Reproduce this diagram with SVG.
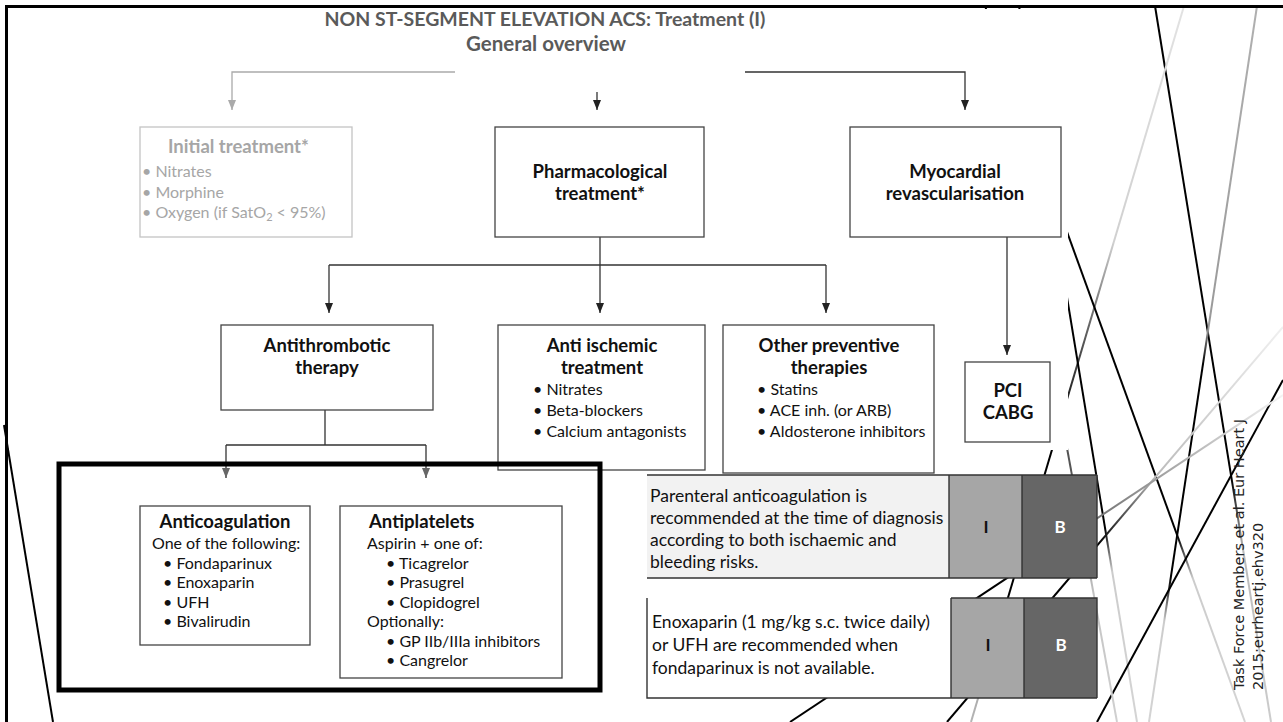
<svg xmlns="http://www.w3.org/2000/svg" width="1283" height="722" viewBox="0 0 1283 722">
  <style>
    .frame { fill: none; stroke: #000; stroke-width: 3; }
    .box { fill: #fff; stroke: #444; stroke-width: 1.3; }
    .boxg { fill: #fff; stroke: #c4c4c4; stroke-width: 1.3; }
    .conn { fill: none; stroke: #333; stroke-width: 1.3; }
    .conng { fill: none; stroke: #aaa; stroke-width: 1.3; }
    .deco { fill: none; stroke-width: 2; }
    .hd { font-family: Lato, 'Open Sans', 'Liberation Sans', sans-serif; font-weight: bold; font-size: 18.5px; fill: #111; text-anchor: middle; }
    .tx { font-family: Lato, 'Open Sans', 'Liberation Sans', sans-serif; font-size: 16px; fill: #111; }
    .ttl { font-family: Lato, 'Open Sans', 'Liberation Sans', sans-serif; font-weight: bold; fill: #5a5a5a; text-anchor: middle; }
    .grey { fill: #a6a6a6; }
    .tbl { font-family: Lato, 'Open Sans', 'Liberation Sans', sans-serif; font-size: 17.5px; fill: #111; }
    .lvl { font-family: Lato, 'Open Sans', 'Liberation Sans', sans-serif; font-weight: bold; font-size: 17px; text-anchor: middle; }
    .cite { font-family: 'DejaVu Sans', sans-serif; font-size: 14.5px; fill: #222; }
  </style>
  <defs>
    <marker id="ah" viewBox="0 0 10 8" refX="10" refY="4" markerWidth="10" markerHeight="8" orient="auto" markerUnits="userSpaceOnUse">
      <path d="M0,0 L10,4 L0,8 z" fill="#222"/>
    </marker>
    <marker id="ahg" viewBox="0 0 10 8" refX="10" refY="4" markerWidth="10" markerHeight="8" orient="auto" markerUnits="userSpaceOnUse">
      <path d="M0,0 L10,4 L0,8 z" fill="#aaa"/>
    </marker>
    <marker id="ahm" viewBox="0 0 10 8" refX="10" refY="4" markerWidth="10" markerHeight="8" orient="auto" markerUnits="userSpaceOnUse">
      <path d="M0,0 L10,4 L0,8 z" fill="#666"/>
    </marker>
    <!-- colour ramps for the background strokes -->
    <linearGradient id="gA" gradientUnits="userSpaceOnUse" x1="1155" y1="6" x2="1271" y2="722">
      <stop offset="0" stop-color="#000"/><stop offset="0.66" stop-color="#000"/><stop offset="0.76" stop-color="#bbb"/><stop offset="1" stop-color="#ccc"/>
    </linearGradient>
    <linearGradient id="gB" gradientUnits="userSpaceOnUse" x1="1184" y1="6" x2="971" y2="722">
      <stop offset="0" stop-color="#e2e2e2"/><stop offset="0.33" stop-color="#d0d0d0"/><stop offset="0.42" stop-color="#777"/><stop offset="0.6" stop-color="#000"/><stop offset="0.85" stop-color="#000"/><stop offset="0.95" stop-color="#aaa"/><stop offset="1" stop-color="#b4b4b4"/>
    </linearGradient>
    <linearGradient id="gC" gradientUnits="userSpaceOnUse" x1="1257" y1="6" x2="1149" y2="722">
      <stop offset="0" stop-color="#b0b0b0"/><stop offset="0.45" stop-color="#999"/><stop offset="0.5" stop-color="#000"/><stop offset="0.8" stop-color="#000"/><stop offset="0.86" stop-color="#ccc"/><stop offset="1" stop-color="#d4d4d4"/>
    </linearGradient>
    <linearGradient id="gD" gradientUnits="userSpaceOnUse" x1="985" y1="6" x2="1245" y2="722">
      <stop offset="0" stop-color="#000"/><stop offset="0.74" stop-color="#000"/><stop offset="0.8" stop-color="#ccc"/><stop offset="1" stop-color="#d4d4d4"/>
    </linearGradient>
    <linearGradient id="gE" gradientUnits="userSpaceOnUse" x1="1019" y1="6" x2="1137" y2="722">
      <stop offset="0" stop-color="#000"/><stop offset="0.73" stop-color="#000"/><stop offset="0.79" stop-color="#ccc"/><stop offset="1" stop-color="#d4d4d4"/>
    </linearGradient>
    <linearGradient id="gJ" gradientUnits="userSpaceOnUse" x1="1283" y1="327" x2="947" y2="722">
      <stop offset="0" stop-color="#f0f0f0"/><stop offset="0.38" stop-color="#bbb"/><stop offset="0.55" stop-color="#000"/><stop offset="1" stop-color="#000"/>
    </linearGradient>
    <linearGradient id="gK" gradientUnits="userSpaceOnUse" x1="1283" y1="395" x2="790" y2="722">
      <stop offset="0" stop-color="#f4f4f4"/><stop offset="0.37" stop-color="#777"/><stop offset="0.58" stop-color="#000"/><stop offset="1" stop-color="#000"/>
    </linearGradient>
    <linearGradient id="gM" gradientUnits="userSpaceOnUse" x1="1040" y1="300" x2="1117" y2="722">
      <stop offset="0" stop-color="#444"/><stop offset="0.4" stop-color="#555"/><stop offset="0.7" stop-color="#c4c4c4"/><stop offset="1" stop-color="#d0d0d0"/>
    </linearGradient>
  </defs>

  <rect width="1283" height="722" fill="#fff"/>

  <!-- background strokes of the slide theme -->
  <g id="theme-lines">
    <line class="deco" x1="1155" y1="6" x2="1271" y2="722" stroke="url(#gA)"/>
    <line class="deco" x1="1184" y1="6" x2="971" y2="722" stroke="url(#gB)"/>
    <line class="deco" x1="1257" y1="6" x2="1149" y2="722" stroke="url(#gC)"/>
    <line class="deco" x1="985" y1="6" x2="1245" y2="722" stroke="url(#gD)"/>
    <line class="deco" x1="1019" y1="6" x2="1137" y2="722" stroke="url(#gE)"/>
    <line class="deco" x1="1283" y1="380" x2="1097" y2="722" stroke="#000"/>
    <line class="deco" x1="1283" y1="327" x2="947" y2="722" stroke="url(#gJ)"/>
    <line class="deco" x1="1283" y1="395" x2="790" y2="722" stroke="url(#gK)"/>
    <line class="deco" x1="1040" y1="300" x2="1117" y2="722" stroke="url(#gM)"/>
    <line class="deco" x1="4" y1="425" x2="53" y2="722" stroke="#000" stroke-width="1.8"/>
    <!-- white ground of the chart panel -->
    <rect x="9" y="9" width="1059" height="441" fill="#fff"/>
    <path class="frame" d="M6.5,722 V6.5 H1283"/>
  </g>

  <!-- headings -->
  <text class="ttl" x="545" y="26" font-size="19.5">NON ST-SEGMENT ELEVATION ACS: Treatment (I)</text>
  <text class="ttl" x="546" y="51" font-size="20.5">General overview</text>

  <!-- connectors -->
  <g id="connectors">
    <path class="conng" d="M455,72 H232 V110" marker-end="url(#ahg)"/>
    <path class="conn" d="M597,92 V110" marker-end="url(#ah)"/>
    <path class="conn" d="M745,72 H965 V110" marker-end="url(#ah)"/>
    <path class="conn" d="M600,237 V265"/>
    <path class="conn" d="M329,265 H826"/>
    <path class="conn" d="M329,265 V313" marker-end="url(#ah)"/>
    <path class="conn" d="M600,265 V313" marker-end="url(#ah)"/>
    <path class="conn" d="M826,265 V313" marker-end="url(#ah)"/>
    <path class="conn" d="M1007,237 V355" marker-end="url(#ah)"/>
    <path class="conn" d="M325,410 V445 M226,445 H426"/>
    <path class="conn" d="M226,445 V478" marker-end="url(#ahm)"/>
    <path class="conn" d="M426,445 V478" marker-end="url(#ahm)"/>
  </g>

  <g id="initial">
    <rect class="boxg" x="140" y="127" width="212" height="110"/>
    <text class="hd grey" x="168" y="153" font-size="20" style="text-anchor:start">Initial treatment*</text>
    <text class="tx grey" x="142" y="177" font-size="17">•  Nitrates</text>
    <text class="tx grey" x="142" y="197.5" font-size="17">•  Morphine</text>
    <text class="tx grey" x="142" y="218" font-size="17">•  Oxygen (if SatO<tspan font-size="11" dy="3">2</tspan><tspan dy="-3"> &lt; 95%)</tspan></text>
  </g>

  <g id="pharmacological">
    <rect class="box" x="495" y="127" width="209" height="110"/>
    <text class="hd" x="600" y="178">Pharmacological</text>
    <text class="hd" x="600" y="200">treatment*</text>
  </g>

  <g id="revascularisation">
    <rect class="box" x="850" y="127" width="211" height="110"/>
    <text class="hd" x="955" y="178">Myocardial</text>
    <text class="hd" x="955" y="200">revascularisation</text>
  </g>

  <g id="antithrombotic">
    <rect class="box" x="221" y="325" width="212" height="85"/>
    <text class="hd" x="327" y="352">Antithrombotic</text>
    <text class="hd" x="327" y="374">therapy</text>
  </g>

  <g id="anti-ischemic">
    <rect class="box" x="498" y="325" width="207" height="145"/>
    <text class="hd" x="602" y="352">Anti ischemic</text>
    <text class="hd" x="602" y="374">treatment</text>
    <text class="tx" x="533" y="395">• Nitrates</text>
    <text class="tx" x="533" y="416">• Beta-blockers</text>
    <text class="tx" x="533" y="437">• Calcium antagonists</text>
  </g>

  <g id="preventive">
    <rect class="box" x="723" y="325" width="211" height="148"/>
    <text class="hd" x="829" y="352">Other preventive</text>
    <text class="hd" x="829" y="374">therapies</text>
    <text class="tx" x="757" y="395">•  Statins</text>
    <text class="tx" x="757" y="416">•  ACE inh. (or ARB)</text>
    <text class="tx" x="757" y="437">•  Aldosterone inhibitors</text>
  </g>

  <g id="pci-cabg">
    <rect class="box" x="965" y="362" width="85" height="80"/>
    <text class="hd" x="1008" y="397">PCI</text>
    <text class="hd" x="1008" y="419">CABG</text>
  </g>

  <!-- highlighted antithrombotic detail -->
  <rect x="59" y="464" width="541" height="226" fill="none" stroke="#000" stroke-width="5"/>

  <g id="anticoagulation">
    <rect class="box" x="140" y="506" width="170" height="139"/>
    <text class="hd" x="225" y="528">Anticoagulation</text>
    <text class="tx" x="152" y="549">One of the following:</text>
    <text class="tx" x="163" y="568.5">• Fondaparinux</text>
    <text class="tx" x="163" y="588">• Enoxaparin</text>
    <text class="tx" x="163" y="607.5">• UFH</text>
    <text class="tx" x="163" y="627">• Bivalirudin</text>
  </g>

  <g id="antiplatelets">
    <rect class="box" x="340" y="506" width="222" height="172"/>
    <text class="hd" x="369" y="528" style="text-anchor:start">Antiplatelets</text>
    <text class="tx" x="367" y="549">Aspirin + one of:</text>
    <text class="tx" x="386" y="568.5">• Ticagrelor</text>
    <text class="tx" x="386" y="588">• Prasugrel</text>
    <text class="tx" x="386" y="607.5">• Clopidogrel</text>
    <text class="tx" x="367" y="627">Optionally:</text>
    <text class="tx" x="386" y="646.5">• GP IIb/IIIa inhibitors</text>
    <text class="tx" x="386" y="666">• Cangrelor</text>
  </g>

  <!-- recommendation rows -->
  <g id="rec-parenteral">
    <rect x="647" y="475" width="302" height="103" fill="#f2f2f2"/>
    <rect x="949" y="475" width="73" height="103" fill="#a6a6a6"/>
    <rect x="1022" y="475" width="75" height="103" fill="#666"/>
    <path d="M647,475 H1097 M647,578 H1097 M949,475 V578 M1022,475 V578 M1097,475 V578" stroke="#333" stroke-width="1.4" fill="none"/>
    <text class="tbl" x="650" y="502">Parenteral anticoagulation is</text>
    <text class="tbl" x="650" y="524">recommended at the time of diagnosis</text>
    <text class="tbl" x="650" y="546">according to both ischaemic and</text>
    <text class="tbl" x="650" y="568">bleeding risks.</text>
    <text class="lvl" x="986" y="533" fill="#111">I</text>
    <text class="lvl" x="1060" y="533" fill="#fff">B</text>
  </g>

  <g id="rec-enoxaparin">
    <rect x="647" y="598" width="304" height="100" fill="#fff"/>
    <rect x="951" y="598" width="73" height="100" fill="#a6a6a6"/>
    <rect x="1024" y="598" width="73" height="100" fill="#666"/>
    <path d="M647,598 V698 H1097 M951,598 H1097 V698 M951,598 V698 M1024,598 V698" stroke="#333" stroke-width="1.4" fill="none"/>
    <text class="tbl" x="652" y="628">Enoxaparin (1 mg/kg s.c. twice daily)</text>
    <text class="tbl" x="652" y="651">or UFH are recommended when</text>
    <text class="tbl" x="652" y="674">fondaparinux is not available.</text>
    <text class="lvl" x="988" y="651" fill="#111">I</text>
    <text class="lvl" x="1061" y="651" fill="#fff">B</text>
  </g>

  <!-- source note -->
  <g id="citation">
    <text class="cite" transform="translate(1244,690) rotate(-90)">Task Force Members et al.  Eur Heart J</text>
    <text class="cite" transform="translate(1263,690) rotate(-90)">2015;eurheartj.ehv320</text>
  </g>
</svg>
